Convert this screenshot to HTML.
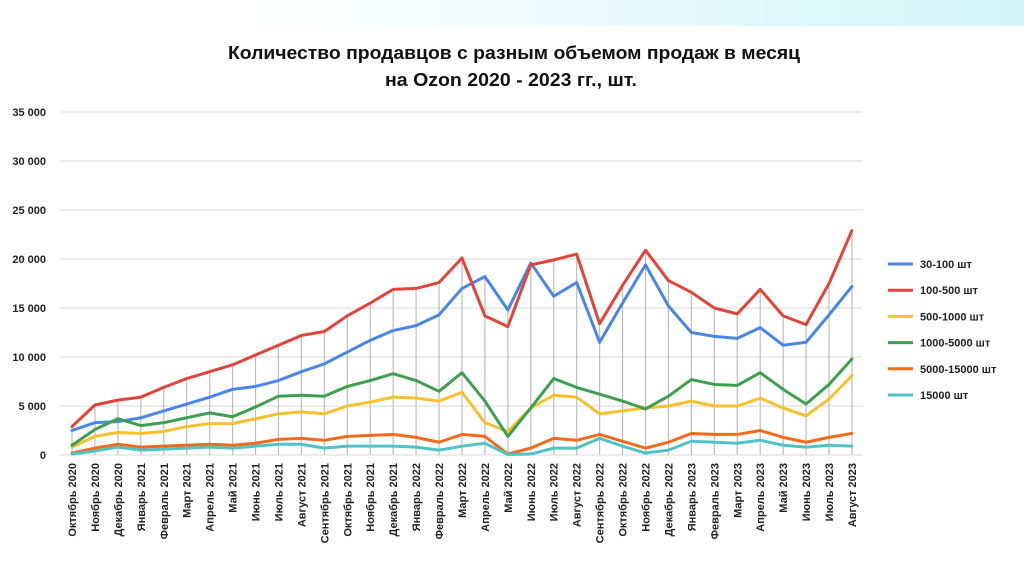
<!DOCTYPE html>
<html><head><meta charset="utf-8"><style>
body{margin:0;width:1024px;height:565px;overflow:hidden;background:#fff;font-family:"Liberation Sans",sans-serif}
</style></head><body>
<svg id="c" width="1024" height="565" xmlns="http://www.w3.org/2000/svg">
<defs><linearGradient id="g" x1="0" x2="1"><stop offset="0.25" stop-color="#fff"/><stop offset="1" stop-color="#d2f5f8"/></linearGradient></defs>
<rect x="0" y="0" width="1024" height="26" fill="url(#g)"/>
<text x="228" y="59" textLength="572" lengthAdjust="spacingAndGlyphs" font-size="18" font-weight="bold" fill="#111">Количество продавцов с разным объемом продаж в месяц</text>
<text x="385" y="86" textLength="252" lengthAdjust="spacingAndGlyphs" font-size="18" font-weight="bold" fill="#111">на Ozon 2020 - 2023 гг., шт.</text>
</svg>
<script>
const s=document.getElementById('c'),NS='http://www.w3.org/2000/svg';
function el(t,a,txt){const e=document.createElementNS(NS,t);for(const k in a)e.setAttribute(k,a[k]);if(txt)e.textContent=txt;s.appendChild(e);return e;}
const X=i=>72+i*22.94, Y=v=>455-v*9.8;
for(let k=0;k<=7;k++){const y=Y(k*5);el('line',{x1:60,x2:862,y1:y,y2:y,stroke:'#d9d9d9','stroke-width':1});
el('text',{x:46,y:y+4,'text-anchor':'end','font-size':11,'font-weight':'bold',fill:'#222'},k==0?'0':(k*5)+' 000');}
const labels=['Октябрь 2020','Ноябрь 2020','Декабрь 2020'];
const m=['Январь','Февраль','Март','Апрель','Май','Июнь','Июль','Август','Сентябрь','Октябрь','Ноябрь','Декабрь'];
for(const yr of [2021,2022])m.forEach(x=>labels.push(x+' '+yr));
m.slice(0,8).forEach(x=>labels.push(x+' 2023'));
const D=[
['#4a86e8','30-100 шт',[2.5,3.3,3.4,3.8,4.5,5.2,5.9,6.7,7.0,7.6,8.5,9.3,10.5,11.7,12.7,13.2,14.3,17.0,18.2,14.8,19.6,16.2,17.6,11.5,15.5,19.4,15.2,12.5,12.1,11.9,13.0,11.2,11.5,14.3,17.2]],
['#e0443a','100-500 шт',[2.9,5.1,5.6,5.9,6.9,7.8,8.5,9.2,10.2,11.2,12.2,12.6,14.2,15.5,16.9,17.0,17.6,20.1,14.2,13.1,19.4,19.9,20.5,13.4,17.3,20.9,17.8,16.6,15.0,14.4,16.9,14.2,13.3,17.5,22.9]],
['#f5c12e','500-1000 шт',[0.8,1.9,2.3,2.2,2.4,2.9,3.2,3.2,3.7,4.2,4.4,4.2,5.0,5.4,5.9,5.8,5.5,6.4,3.3,2.4,4.8,6.1,5.9,4.2,4.5,4.8,5.0,5.5,5.0,5.0,5.8,4.8,4.0,5.7,8.1]],
['#3ea04f','1000-5000 шт',[1.0,2.6,3.7,3.0,3.3,3.8,4.3,3.9,4.9,6.0,6.1,6.0,7.0,7.6,8.3,7.6,6.5,8.4,5.5,1.9,4.8,7.8,6.9,6.2,5.5,4.7,6.0,7.7,7.2,7.1,8.4,6.7,5.2,7.2,9.8]],
['#f26b1d','5000-15000 шт',[0.2,0.7,1.1,0.8,0.9,1.0,1.1,1.0,1.2,1.6,1.7,1.5,1.9,2.0,2.1,1.8,1.3,2.1,1.9,0.1,0.7,1.7,1.5,2.1,1.4,0.7,1.3,2.2,2.1,2.1,2.5,1.8,1.3,1.8,2.2]],
['#4fc3c7','15000 шт',[0.1,0.4,0.8,0.5,0.6,0.7,0.8,0.7,0.9,1.1,1.1,0.7,0.9,0.9,0.9,0.8,0.5,0.9,1.2,0.05,0.1,0.7,0.7,1.7,0.9,0.2,0.5,1.4,1.3,1.2,1.5,1.0,0.8,1.0,0.9]]];
for(let i=0;i<35;i++){const mx=Math.max(...D.map(d=>d[2][i]));
el('line',{x1:X(i),x2:X(i),y1:Y(mx),y2:455,stroke:'#bdbdbd','stroke-width':1.2});
el('text',{transform:`translate(${X(i)+4},463) rotate(-90)`,'text-anchor':'end','font-size':11,'font-weight':'bold',fill:'#222'},labels[i]);}
D.forEach((d,j)=>{el('polyline',{points:d[2].map((v,i)=>X(i)+','+Y(v)).join(' '),fill:'none',stroke:d[0],'stroke-width':3,'stroke-linejoin':'round','stroke-linecap':'round'});
const y=264+26.2*j;el('line',{x1:888,x2:913,y1:y,y2:y,stroke:d[0],'stroke-width':3});
el('text',{x:920,y:y+4,'font-size':11,'font-weight':'bold',fill:'#222'},d[1]);});
</script>
</body></html>
